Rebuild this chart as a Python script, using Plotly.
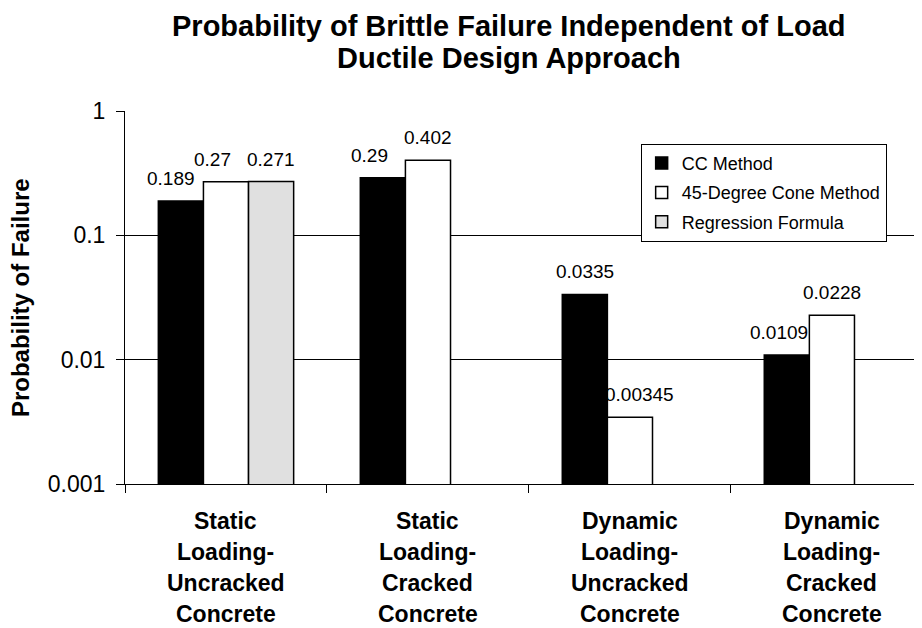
import math
import plotly.graph_objects as go

categories = ["Static Loading-Uncracked Concrete", "Static Loading-Cracked Concrete",
              "Dynamic Loading-Uncracked Concrete", "Dynamic Loading-Cracked Concrete"]
category_lines = [["Static", "Loading-", "Uncracked", "Concrete"],
                  ["Static", "Loading-", "Cracked", "Concrete"],
                  ["Dynamic", "Loading-", "Uncracked", "Concrete"],
                  ["Dynamic", "Loading-", "Cracked", "Concrete"]]
cc_method = [0.189, 0.29, 0.0335, 0.0109]
cone_method = [0.27, 0.402, 0.00345, 0.0228]
regression = [0.271, None, None, None]
cc_labels = ["0.189", "0.29", "0.0335", "0.0109"]
cone_labels = ["0.27", "0.402", "0.00345", "0.0228"]
reg_labels = ["0.271", "", "", ""]
y_ticks = [0.001, 0.01, 0.1, 1]
y_ticktext = ["0.001", "0.01", "0.1", "1"]
title_lines = ["Probability of Brittle Failure Independent of Load", "Ductile Design Approach"]

FONT = "Arial, Liberation Sans, sans-serif"

# layout geometry (styles)
W, H = 914, 620
ML, MR, MT, MB = 117, 0, 103, 144
X_RANGE = [-0.5, 3.446]
BARGAP = 0.33
N_SERIES = 3
plot_w = W - ML - MR
cat_px = plot_w / (X_RANGE[1] - X_RANGE[0])
bar_px = cat_px * (1 - BARGAP) / N_SERIES
# small label nudges (px) mimicking the spreadsheet's overlap avoidance
label_nudge = [[-10, -13, 0, -8], [-13, 0, 10, 0], [0, 0, 0, 0]]

fig = go.Figure()
series = [
    ("CC Method", cc_method, cc_labels, "#000000"),
    ("45-Degree Cone Method", cone_method, cone_labels, "#ffffff"),
    ("Regression Formula", regression, reg_labels, "#e0e0e0"),
]
annotations = []
for i, (name, vals, labels, color) in enumerate(series):
    fig.add_trace(go.Bar(
        name=name, x=categories, y=vals,
        marker=dict(color=color, line=dict(color="#000000", width=1.5)),
        legendgroup=f"g{i}",
    ))
    offset = (i - (N_SERIES - 1) / 2) * bar_px
    for k, (cat, v, lab) in enumerate(zip(categories, vals, labels)):
        if v is None:
            continue
        annotations.append(dict(
            x=cat, xref="x", y=math.log10(v), yref="y", text=lab,
            showarrow=False, xanchor="center", yanchor="bottom",
            xshift=offset + label_nudge[i][k], yshift=10,
            font=dict(family=FONT, size=19, color="#000000"),
        ))

for cat, lines in zip(categories, category_lines):
    for j, line in enumerate(lines):
        annotations.append(dict(
            x=cat, xref="x", y=0, yref="paper", text=f"<b>{line}</b>",
            showarrow=False, yanchor="middle", xanchor="center",
            yshift=-(37 + 31 * j),
            font=dict(family=FONT, size=23, color="#000000"),
        ))
annotations.append(dict(
    x=-0.131, xref="paper", y=0.5, yref="paper", text="<b>Probability of Failure</b>",
    showarrow=False, textangle=-90, xanchor="center", yanchor="middle",
    font=dict(family=FONT, size=24, color="#000000"),
))
for line, ty in zip(title_lines, [1.2292, 1.1421]):
    annotations.append(dict(
        x=0.4812, xref="paper", y=ty, yref="paper", text=f"<b>{line}</b>",
        showarrow=False, xanchor="center", yanchor="middle",
        font=dict(family=FONT, size=29, color="#000000"),
    ))

fig.update_layout(
    width=W, height=H,
    margin=dict(l=ML, r=MR, t=MT, b=MB),
    paper_bgcolor="white", plot_bgcolor="white",
    barmode="group", bargap=BARGAP, bargroupgap=0,
    font=dict(family=FONT, color="#000000"),
    legend=dict(
        x=0.647, y=0.912, xanchor="left", yanchor="top",
        bgcolor="white", bordercolor="#000000", borderwidth=1,
        font=dict(family=FONT, size=18, color="#000000"),
        tracegroupgap=3, itemwidth=30,
    ),
    showlegend=True,
    annotations=annotations,
)
fig.update_xaxes(
    type="category", range=X_RANGE, showticklabels=False,
    showline=True, linecolor="#000000", linewidth=1,
    ticks="outside", tickson="boundaries", ticklen=8, tickcolor="#000000",
    showgrid=False,
)
fig.update_yaxes(
    type="log", range=[-3, 0], tickvals=y_ticks, ticktext=y_ticktext,
    showline=True, linecolor="#000000", linewidth=1,
    ticks="outside", ticklen=8, tickcolor="#000000",
    showgrid=True, gridcolor="#000000", gridwidth=1,
    tickfont=dict(family=FONT, size=23, color="#000000"),
    ticklabelstandoff=6, zeroline=False,
)
fig.write_html("out.html")
